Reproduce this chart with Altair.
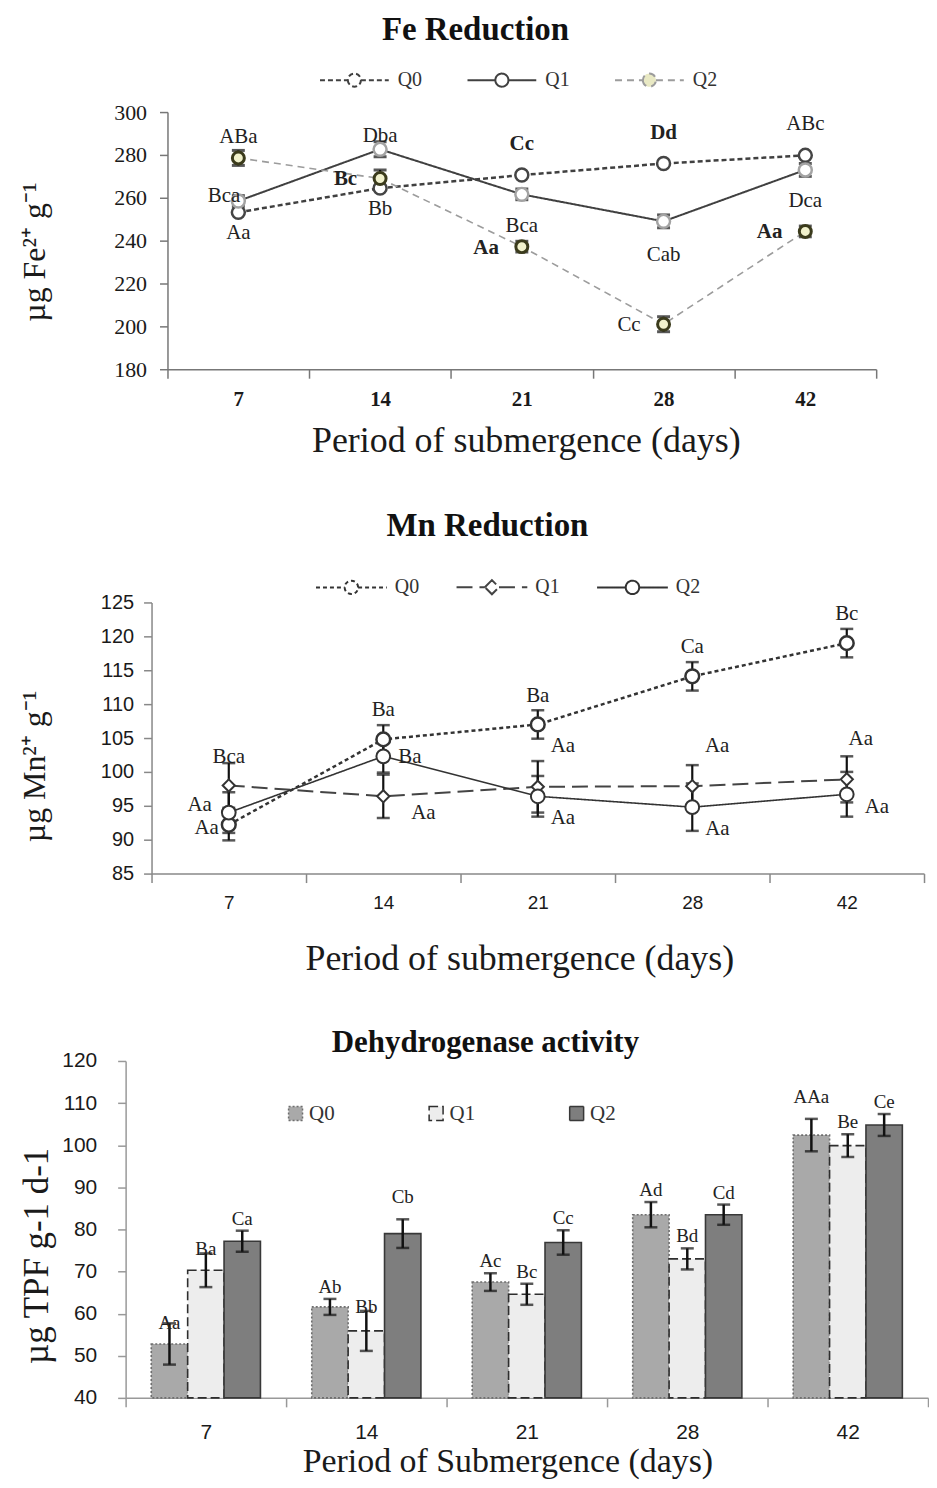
import altair as alt
import pandas as pd

SERIF = "Liberation Serif"
SANS = "Liberation Sans"

days = ["7", "14", "21", "28", "42"]
series = ["Q0", "Q1", "Q2"]

# ---------------- Fe reduction ----------------
fe_q0 = [253.2, 264.5, 270.6, 276.0, 279.8]
fe_q1 = [258.5, 282.6, 261.6, 249.0, 273.0]
fe_q2 = [278.6, 269.0, 237.2, 201.0, 244.3]
fe_err_q0 = [1.0, 1.0, 1.0, 1.0, 1.0]
fe_err_q1 = [2.5, 3.5, 2.5, 3.0, 3.0]
fe_err_q2 = [3.5, 4.0, 2.5, 3.5, 2.5]

fe_lab_text = ["Aa", "Bb", "Cc", "Dd", "ABc", "Bca", "Dba", "Cab",
               "ABa", "Bc", "Aa", "Bca", "Cc", "Aa", "Dca"]
fe_lab_series = ["Q0"] * 5 + ["Q1"] * 3 + ["Q2"] * 7
fe_lab_day = ["7", "14", "21", "28", "42", "7", "14", "28",
              "7", "14", "21", "21", "28", "42", "42"]
fe_lab_place = ["below", "below", "above", "above", "above", "left_in", "above_near", "below_far",
                "above_mid", "left", "left", "above_mid", "left", "left", "above"]
fe_lab_bold = [False, False, True, True, False, False, False, False,
               False, True, True, False, False, True, False]

# ---------------- Mn reduction ----------------
mn_q0 = [92.2, 104.8, 107.0, 114.1, 119.0]
mn_q1 = [98.0, 96.4, 97.8, 97.9, 98.9]
mn_q2 = [94.0, 102.3, 96.4, 94.8, 96.7]
mn_err_q0 = [2.3, 2.1, 2.1, 2.1, 2.1]
mn_err_q1 = [3.3, 3.2, 3.8, 3.1, 3.4]
mn_err_q2 = [3.0, 2.4, 3.0, 3.5, 3.3]

mn_lab_text = ["Aa", "Ba", "Ba", "Aa", "Ca", "Bc",
               "Bca", "Aa", "Aa", "Aa",
               "Aa", "Ba", "Aa", "Aa", "Aa"]
mn_lab_series = ["Q0"] * 6 + ["Q1"] * 4 + ["Q2"] * 5
mn_lab_day = ["7", "14", "21", "21", "28", "42",
              "7", "14", "28", "42",
              "7", "14", "21", "28", "42"]
mn_lab_place = ["left", "above", "above", "belowright", "above", "above",
                "above", "belowright2", "aboveright", "aboveright2",
                "left2", "right", "belowright", "belowright", "right2"]

# ---------------- Dehydrogenase ----------------
dh_q0 = [52.8, 61.6, 67.5, 83.5, 102.4]
dh_q1 = [70.3, 55.9, 64.6, 73.0, 99.9]
dh_q2 = [77.2, 79.0, 76.9, 83.5, 104.8]
dh_err_q0 = [4.9, 1.9, 2.1, 3.0, 3.85]
dh_err_q1 = [4.0, 4.75, 2.5, 2.5, 2.7]
dh_err_q2 = [2.5, 3.4, 2.9, 2.4, 2.6]
dh_lab_q0 = ["Aa", "Ab", "Ac", "Ad", "AAa"]
dh_lab_q1 = ["Ba", "Bb", "Bc", "Bd", "Be"]
dh_lab_q2 = ["Ca", "Cb", "Cc", "Cd", "Ce"]
dh_place_q0 = ["on", "top", "top", "top", "high"]
dh_place_q1 = ["near", "near", "top", "top", "top"]
dh_place_q2 = ["top", "high", "top", "top", "top"]


def long_table(vals_by_series, errs_by_series):
    rows = []
    for s, vals, errs in zip(series, vals_by_series, errs_by_series):
        for d, v, e in zip(days, vals, errs):
            rows.append(dict(day=d, series=s, value=v, lo=v - e, hi=v + e))
    return pd.DataFrame(rows)


def band_x(axis, rng=None):
    sc = dict(type="band", paddingInner=0, paddingOuter=0)
    if rng is not None:
        sc["range"] = rng
    return alt.X("day:N", sort=days, scale=alt.Scale(**sc), axis=axis)


def x_axis(title, font, size, weight, pad, title_size, title_x, title_y, col):
    return alt.Axis(title=title, labelAngle=0, tickBand="extent", grid=False,
                    domainColor=col, domainWidth=1.5, tickColor=col, tickWidth=1.5, tickSize=9,
                    labelFont=font, labelFontSize=size, labelFontWeight=weight, labelColor="#1a1a1a",
                    labelPadding=pad, titleFont=SERIF, titleFontSize=title_size, titleFontWeight="normal",
                    titleColor="#1a1a1a", titleX=title_x, titleY=title_y, titleBaseline="middle")


def y_axis(title, values, font, size, pad, title_size, title_x, title_y, col, offset):
    return alt.Axis(title=title, values=values, grid=False, offset=offset,
                    domainColor=col, domainWidth=1.5, tickColor=col, tickWidth=1.5, tickSize=8,
                    labelFont=font, labelFontSize=size, labelColor="#1a1a1a", labelPadding=pad,
                    titleFont=SERIF, titleFontSize=title_size, titleFontWeight="normal",
                    titleColor="#1a1a1a", titleX=title_x, titleY=title_y,
                    titleBaseline="middle", titleAlign="center", titleAngle=270)


# legend glyphs: a short line with a marker in its middle
SYM_CIRCLE = ("M-1,0H-0.19M0.19,0H1"
              "M-0.19,0A0.19,0.19 0 1,0 0.19,0A0.19,0.19 0 1,0 -0.19,0")
SYM_DIAMOND = "M-1,0H-0.2M0.2,0H1M-0.2,0L0,-0.2L0.2,0L0,0.2Z"


def line_panel(df, lab, X, yax, ydom, line_styles, legend, leg_shapes, leg_fills,
               point_styles, err_series, cap, place, lab_font_size, title, w, h):
    ysc = alt.Scale(domain=ydom, zero=False, nice=False)

    def Y(f):
        return alt.Y(f, type="quantitative", scale=ysc, axis=yax)

    layers = []
    for s, ls in zip(series, line_styles):
        layers.append(alt.Chart(df).transform_filter(alt.datum.series == s)
                      .mark_line(**ls).encode(x=X, y=Y("value")))
    # invisible layer that only carries the legend
    layers.append(alt.Chart(df).mark_point(opacity=0, filled=True).encode(
        x=X, y=Y("value"),
        shape=alt.Shape("series:N", scale=alt.Scale(domain=series, range=leg_shapes), legend=legend),
        stroke=alt.Stroke("series:N", scale=alt.Scale(domain=series, range=[l["color"] for l in line_styles]),
                          legend=legend),
        strokeDash=alt.StrokeDash("series:N", scale=alt.Scale(domain=series,
                                                              range=[l["strokeDash"] for l in line_styles]),
                                  legend=legend),
        fill=alt.Fill("series:N", scale=alt.Scale(domain=series, range=leg_fills), legend=legend),
    ))
    err = alt.Chart(df).transform_filter(alt.FieldOneOfPredicate(field="series", oneOf=err_series))
    layers.append(err.mark_rule(color="#111", strokeWidth=2.2).encode(x=X, y=Y("lo"), y2="hi:Q"))
    layers.append(err.mark_tick(color="#111", thickness=cap[1], size=cap[0]).encode(x=X, y=Y("lo")))
    layers.append(err.mark_tick(color="#111", thickness=cap[1], size=cap[0]).encode(x=X, y=Y("hi")))
    for s, st in zip(series, point_styles):
        layers.append(alt.Chart(df).transform_filter(alt.datum.series == s)
                      .mark_point(filled=True, opacity=1, **st).encode(x=X, y=Y("value")))
    combos = lab[["place", "bold"]].drop_duplicates().values.tolist()
    for p, b in combos:
        layers.append(
            alt.Chart(lab)
            .transform_filter((alt.datum.place == p) & (alt.datum.bold == bool(b)))
            .mark_text(font=SERIF, fontSize=lab_font_size, fontWeight="bold" if b else "normal",
                       color="#222", baseline="middle", **place[p])
            .encode(x=X, y=Y("value"), text="text:N"))
    return alt.layer(*layers).properties(width=w, height=h, title=title)


# ---------- Fe panel ----------
fe_df = long_table([fe_q0, fe_q1, fe_q2], [fe_err_q0, fe_err_q1, fe_err_q2])
fe_lab = pd.DataFrame(dict(text=fe_lab_text, series=fe_lab_series, day=fe_lab_day,
                           place=fe_lab_place, bold=fe_lab_bold)).merge(fe_df, on=["day", "series"])
FE_PLACE = {
    "above": dict(dy=-31), "above_mid": dict(dy=-21), "above_near": dict(dy=-13),
    "below": dict(dy=21), "below_far": dict(dy=34),
    "left": dict(dx=-23, dy=1, align="right"), "left_in": dict(dx=2, dy=-5, align="right"),
}
fe_legend = alt.Legend(title=None, orient="none", legendX=194, legendY=-68, direction="horizontal",
                       symbolSize=4761, symbolStrokeWidth=2, symbolOpacity=1,
                       labelFont=SERIF, labelFontSize=20,
                       labelColor="#333", labelOffset=8, columnPadding=41, padding=0)
fe = line_panel(
    fe_df, fe_lab,
    band_x(x_axis("Period of submergence (days)", SERIF, 21, "bold", 10, 36, 401.5, 72, "#777"),
           [42, 753]),
    y_axis("µg Fe²⁺ g⁻¹", [180, 200, 220, 240, 260, 280, 300], SERIF, 22, 13, 32, -133, 140, "#777", -42),
    [180, 300],
    [dict(color="#404040", strokeDash=[5, 3], strokeWidth=2.5),
     dict(color="#404040", strokeDash=[1, 0], strokeWidth=2),
     dict(color="#9c9c9c", strokeDash=[7, 5], strokeWidth=1.6)],
    fe_legend, [SYM_CIRCLE, SYM_CIRCLE, SYM_CIRCLE], ["white", "white", "#e9e9c4"],
    [dict(shape="circle", size=169, fill="white", stroke="#454545", strokeWidth=2.5),
     dict(shape="circle", size=169, fill="white", stroke="#a3a3a3", strokeWidth=2.5),
     dict(shape="circle", size=144, fill="#f1f1cc", stroke="#3b3b1c", strokeWidth=3)],
    ["Q1", "Q2"], (13, 3), FE_PLACE, 21,
    alt.TitleParams("Fe Reduction", font=SERIF, fontSize=33, fontWeight="bold", color="#111",
                    frame="group", anchor="middle", dx=-25.5, offset=-19, baseline="middle"),
    753, 258)

# ---------- Mn panel ----------
mn_df = long_table([mn_q0, mn_q1, mn_q2], [mn_err_q0, mn_err_q1, mn_err_q2])
mn_lab = pd.DataFrame(dict(text=mn_lab_text, series=mn_lab_series, day=mn_lab_day,
                           place=mn_lab_place)).merge(mn_df, on=["day", "series"])
mn_lab["bold"] = False
MN_PLACE = {
    "above": dict(dy=-29),
    "left": dict(dx=-10, dy=3, align="right"), "left2": dict(dx=-17, dy=-8, align="right"),
    "right": dict(dx=15, dy=1, align="left"), "right2": dict(dx=18, dy=13, align="left"),
    "belowright": dict(dx=13, dy=22, align="left"), "belowright2": dict(dx=28, dy=17, align="left"),
    "aboveright": dict(dx=25, dy=-40), "aboveright2": dict(dx=14, dy=-40),
}
mn_legend = alt.Legend(title=None, orient="none", legendX=190, legendY=-52, direction="horizontal",
                       symbolSize=5041, symbolStrokeWidth=2, symbolOpacity=1,
                       labelFont=SERIF, labelFontSize=20,
                       labelColor="#333", labelOffset=7, columnPadding=33, padding=0)
mn = line_panel(
    mn_df, mn_lab,
    band_x(x_axis("Period of submergence (days)", SANS, 19, "normal", 11, 36, 395, 85, "#888"),
           [26, 801]),
    y_axis("µg Mn²⁺ g⁻¹", [85, 90, 95, 100, 105, 110, 115, 120, 125], SANS, 20, 10, 32, -117, 164, "#888", -26),
    [85, 125],
    [dict(color="#333333", strokeDash=[4, 3], strokeWidth=2.5),
     dict(color="#444444", strokeDash=[16, 7], strokeWidth=2),
     dict(color="#333333", strokeDash=[1, 0], strokeWidth=1.6)],
    mn_legend, [SYM_CIRCLE, SYM_DIAMOND, SYM_CIRCLE], ["white", "white", "white"],
    [dict(shape="circle", size=190, fill="white", stroke="#333", strokeWidth=2.5),
     dict(shape="diamond", size=150, fill="white", stroke="#333", strokeWidth=2),
     dict(shape="circle", size=190, fill="white", stroke="#333", strokeWidth=2)],
    ["Q0", "Q1", "Q2"], (13, 2.5), MN_PLACE, 21,
    alt.TitleParams("Mn Reduction", font=SERIF, fontSize=33, fontWeight="bold", color="#111",
                    frame="group", anchor="middle", dx=-37.5, offset=-8, baseline="middle"),
    801, 272)

# ---------- Dehydrogenase panel ----------
dh_df = long_table([dh_q0, dh_q1, dh_q2], [dh_err_q0, dh_err_q1, dh_err_q2])
dh_lab = pd.DataFrame(dict(text=dh_lab_q0 + dh_lab_q1 + dh_lab_q2,
                           series=["Q0"] * 5 + ["Q1"] * 5 + ["Q2"] * 5,
                           day=days * 3,
                           place=dh_place_q0 + dh_place_q1 + dh_place_q2)).merge(dh_df, on=["day", "series"])
DH_PLACE = {"on": dict(dy=0), "near": dict(dy=-4), "top": dict(dy=-12), "high": dict(dy=-22)}

dh_X = band_x(x_axis("Period of Submergence (days)", SANS, 21, "normal", 15, 34, 383, 64, "#999"))
dh_XO = alt.XOffset("series:N", sort=series,
                    scale=alt.Scale(domain=series, paddingInner=0, paddingOuter=0.705))
dh_ysc = alt.Scale(domain=[40, 120], zero=False, nice=False)
dh_yax = y_axis("µg TPF g-1 d-1", [40, 50, 60, 70, 80, 90, 100, 110, 120], SANS, 21, 21, 35, -89, 195,
                "#999", 0)


def dhY(f):
    return alt.Y(f, type="quantitative", scale=dh_ysc, axis=dh_yax)


dh_legend = alt.Legend(title=None, orient="none", legendX=160, legendY=42, direction="horizontal",
                       symbolType="square", symbolSize=196, symbolStrokeWidth=1.5,
                       labelFont=SERIF, labelFontSize=21, labelColor="#333", labelOffset=3,
                       columnPadding=91, padding=0)
dh_layers = [
    alt.Chart(dh_df).mark_bar(strokeWidth=1.6).encode(
        x=dh_X, xOffset=dh_XO, y=dhY("value"), y2=alt.datum(40),
        fill=alt.Fill("series:N", scale=alt.Scale(domain=series, range=["#a9a9a9", "#ededed", "#7e7e7e"]),
                      legend=dh_legend),
        stroke=alt.Stroke("series:N", scale=alt.Scale(domain=series, range=["#6e6e6e", "#2e2e2e", "#383838"]),
                          legend=dh_legend),
        strokeDash=alt.StrokeDash("series:N", scale=alt.Scale(domain=series, range=[[2, 2], [9, 4], [1, 0]]),
                                  legend=dh_legend),
    ),
    alt.Chart(dh_df).mark_rule(color="#111", strokeWidth=2.5).encode(
        x=dh_X, xOffset=dh_XO, y=dhY("lo"), y2="hi:Q"),
    alt.Chart(dh_df).mark_tick(color="#111", thickness=2.5, size=13).encode(
        x=dh_X, xOffset=dh_XO, y=dhY("lo")),
    alt.Chart(dh_df).mark_tick(color="#111", thickness=2.5, size=13).encode(
        x=dh_X, xOffset=dh_XO, y=dhY("hi")),
]
for p in DH_PLACE:
    dh_layers.append(
        alt.Chart(dh_lab).transform_filter(alt.datum.place == p)
        .mark_text(font=SERIF, fontSize=19, color="#222", baseline="middle", **DH_PLACE[p])
        .encode(x=dh_X, xOffset=dh_XO, y=dhY("hi"), text="text:N"))
dh = alt.layer(*dh_layers).properties(
    width=805, height=338,
    title=alt.TitleParams("Dehydrogenase activity", font=SERIF, fontSize=31, fontWeight="bold",
                          color="#111", frame="group", anchor="middle", dx=-41.5, offset=-24.5,
                          baseline="middle"))

chart = alt.vconcat(fe, mn, dh, spacing=51).resolve_scale(
    stroke="independent", strokeDash="independent", fill="independent", shape="independent"
).resolve_legend(
    stroke="independent", strokeDash="independent", fill="independent", shape="independent"
).properties(
    padding={"left": 11, "top": 4, "right": 0, "bottom": 0}
).configure_view(stroke=None).configure_axis(grid=False)

chart.save("out.html", embed_options={"renderer": "svg", "actions": False})
